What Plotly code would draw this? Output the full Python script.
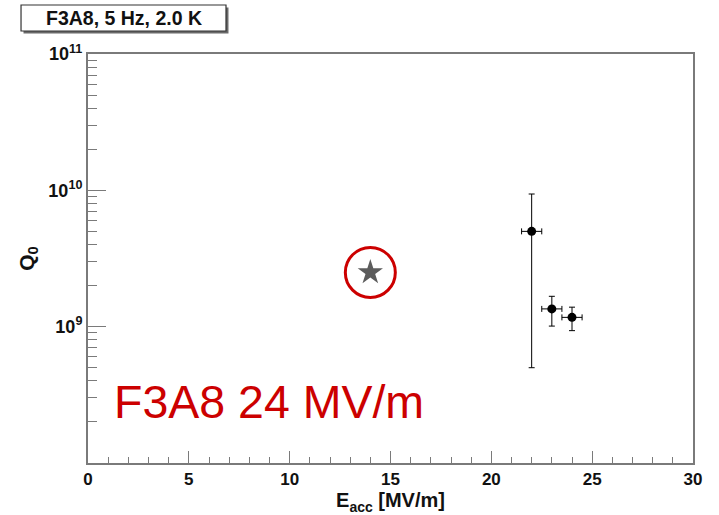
import plotly.graph_objects as go

# ---- data ----
eacc = [22, 23, 24]                       # MV/m
eacc_err = [0.5, 0.5, 0.5]
q0 = [5.0e9, 1.35e9, 1.17e9]
q0_err_plus = [4.4e9, 0.32e9, 0.22e9]
q0_err_minus = [4.5e9, 0.34e9, 0.235e9]

star_eacc = [14]
star_q0 = [2.5e9]

x_major = [0, 5, 10, 15, 20, 25, 30]
x_minor = [v for v in range(0, 31) if v % 5 != 0]
y_major = [1e9, 1e10, 1e11]
y_major_text = ["10<sup>9</sup>", "10<sup>10</sup>", "10<sup>11</sup>"]
y_minor = [k * 10 ** d for d in (8, 9, 10) for k in range(2, 10)]

title_text = "F3A8, 5 Hz, 2.0 K"
note_text = "F3A8 24 MV/m"

FONT = "Liberation Sans, Arial, sans-serif"
AX = "#7a7a7a"

fig = go.Figure()

fig.add_trace(go.Scatter(
    x=eacc, y=q0, mode="markers",
    marker=dict(color="black", size=9),
    error_x=dict(type="data", array=eacc_err, color="black", thickness=1, width=3),
    error_y=dict(type="data", array=q0_err_plus, arrayminus=q0_err_minus,
                 color="black", thickness=1, width=3),
    showlegend=False,
))

fig.add_trace(go.Scatter(
    x=star_eacc, y=star_q0, mode="markers",
    marker=dict(symbol="star", color="#5c5c5c", size=19, line=dict(width=0)),
    showlegend=False,
))

fig.add_trace(go.Scatter(
    x=star_eacc, y=star_q0, mode="markers",
    marker=dict(symbol="circle-open", color="#cc0000", size=50,
                line=dict(width=3, color="#cc0000")),
    showlegend=False,
))

# title box with shadow
fig.add_shape(type="rect", xref="paper", yref="paper",
              x0=-0.1066, x1=0.2322, y0=1.0501, y1=1.1137,
              fillcolor="#6a6a6a", line=dict(width=0), layer="above")
fig.add_shape(type="rect", xref="paper", yref="paper",
              x0=-0.1107, x1=0.2281, y0=1.0562, y1=1.1198,
              fillcolor="white", line=dict(width=1.2, color="#333333"), layer="above")
fig.add_annotation(text=title_text, xref="paper", yref="paper",
                   x=0.0587, y=1.088, xanchor="center", yanchor="middle",
                   showarrow=False,
                   font=dict(family=FONT, size=19.5, color="#111111", weight="bold"))

fig.add_annotation(text=note_text, xref="paper", yref="paper",
                   x=0.040, y=0.150, xanchor="left", yanchor="middle",
                   showarrow=False,
                   font=dict(family=FONT, size=46.5, color="#cc0000"))

fig.update_xaxes(
    type="linear", range=[0, 30], automargin=False,
    tickmode="array", tickvals=x_major,
    ticks="inside", ticklen=12, tickwidth=1, tickcolor=AX,
    minor=dict(tickmode="array", tickvals=x_minor, ticks="inside",
               ticklen=6, tickwidth=1, tickcolor=AX, showgrid=False),
    showline=True, linecolor=AX, linewidth=2, mirror=True,
    showgrid=False, zeroline=False,
    tickfont=dict(family=FONT, size=17, color="#111111", weight="bold"),
    title=dict(text="E<sub>acc</sub> [MV/m]", standoff=1,
               font=dict(family=FONT, size=20, color="#111111", weight="bold")),
)

fig.update_yaxes(
    type="log", range=[8, 11], automargin=False,
    tickmode="array", tickvals=y_major, ticktext=y_major_text,
    ticks="inside", ticklen=18, tickwidth=1, tickcolor=AX,
    minor=dict(tickmode="array", tickvals=y_minor, ticks="inside",
               ticklen=9, tickwidth=1, tickcolor=AX, showgrid=False),
    showline=True, linecolor=AX, linewidth=2, mirror=True,
    showgrid=False, zeroline=False,
    tickfont=dict(family=FONT, size=18, color="#111111", weight="bold"),
    title=dict(text="Q<sub>0</sub>", standoff=8,
               font=dict(family=FONT, size=21, color="#111111", weight="bold")),
)

fig.update_layout(
    width=719, height=515,
    margin=dict(l=88, r=26, t=54, b=52),
    paper_bgcolor="white", plot_bgcolor="white",
    showlegend=False,
)

fig.write_html("out.html", config={"displayModeBar": False},
               post_script="document.body.style.margin='0';")
